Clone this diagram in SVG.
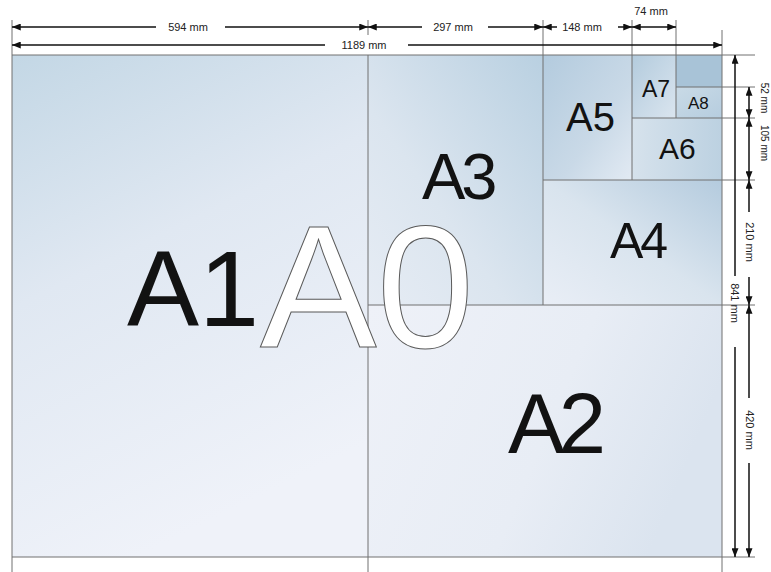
<svg xmlns="http://www.w3.org/2000/svg" width="771" height="572" viewBox="0 0 771 572">
<defs>
<linearGradient id="gA1" x1="0" y1="0" x2="0.35" y2="1"><stop offset="0" stop-color="#c3d7e5"/><stop offset="0.45" stop-color="#e0e8f2"/><stop offset="1" stop-color="#eff2f9"/></linearGradient>
<linearGradient id="gA2" x1="0" y1="0" x2="1" y2="0.3"><stop offset="0" stop-color="#eef1f8"/><stop offset="0.6" stop-color="#e8edf5"/><stop offset="1" stop-color="#dbe4ef"/></linearGradient>
<linearGradient id="gA3" x1="1" y1="0" x2="0" y2="1"><stop offset="0" stop-color="#b9d0e1"/><stop offset="0.6" stop-color="#dbe5ef"/><stop offset="1" stop-color="#e6ecf4"/></linearGradient>
<linearGradient id="gA4" x1="0" y1="1" x2="1" y2="0"><stop offset="0" stop-color="#e9eef6"/><stop offset="0.5" stop-color="#d9e4ee"/><stop offset="1" stop-color="#b4cbde"/></linearGradient>
<linearGradient id="gA5" x1="0" y1="0" x2="1" y2="1"><stop offset="0" stop-color="#b3cbde"/><stop offset="0.6" stop-color="#c9d9e7"/><stop offset="1" stop-color="#e2eaf3"/></linearGradient>
<linearGradient id="gA6" x1="0" y1="0" x2="1" y2="0"><stop offset="0" stop-color="#d6e2ec"/><stop offset="1" stop-color="#bcd1e1"/></linearGradient>
<linearGradient id="gA7" x1="0" y1="0" x2="1" y2="1"><stop offset="0" stop-color="#b3cbdd"/><stop offset="1" stop-color="#dae5ef"/></linearGradient>
<linearGradient id="gA8" x1="0" y1="0" x2="1" y2="1"><stop offset="0" stop-color="#c9dae6"/><stop offset="1" stop-color="#b6cddf"/></linearGradient>
<marker id="ar" viewBox="0 0 10 8" refX="10" refY="4" markerWidth="9" markerHeight="7" markerUnits="userSpaceOnUse" orient="auto-start-reverse"><path d="M0,0 L10,4 L0,8 Z" fill="#111"/></marker>
<style>
.frame{fill:none;stroke:#707070;stroke-width:1}
.lab{font-family:"Liberation Sans",Arial,sans-serif;fill:#121212}
.dim{fill:none;stroke:#111;stroke-width:1.5}
.dt{font-family:"Liberation Sans",Arial,sans-serif;font-size:11px;fill:#222;text-anchor:middle}
.rt{font-family:"Liberation Sans",Arial,sans-serif;font-size:10px;fill:#222;text-anchor:middle;dominant-baseline:central}
</style>
</defs>
<rect width="771" height="572" fill="#ffffff"/>
<g id="A1"><rect x="12" y="55" width="356" height="502" fill="url(#gA1)"/><text class="lab" x="127" y="326" font-size="108">A1</text></g>
<g id="A2"><rect x="368" y="305" width="354" height="252" fill="url(#gA2)"/><text class="lab" x="508" y="453" font-size="85" letter-spacing="-6">A2</text></g>
<g id="A3"><rect x="368" y="55" width="175" height="250" fill="url(#gA3)"/><text class="lab" x="422" y="199" font-size="65" letter-spacing="-4">A3</text></g>
<g id="A4"><rect x="543" y="180" width="179" height="125" fill="url(#gA4)"/><text class="lab" x="610" y="258" font-size="50" letter-spacing="-3">A4</text></g>
<g id="A5"><rect x="543" y="55" width="89" height="125" fill="url(#gA5)"/><text class="lab" x="566" y="131" font-size="40">A5</text></g>
<g id="A6"><rect x="632" y="118" width="90" height="62" fill="url(#gA6)"/><text class="lab" x="659" y="159" font-size="30">A6</text></g>
<g id="A7"><rect x="632" y="55" width="44" height="63" fill="url(#gA7)"/><text class="lab" x="642" y="97" font-size="23">A7</text></g>
<g id="A8top"><rect x="676" y="55" width="46" height="32" fill="#a8c3d7"/></g>
<g id="A8"><rect x="676" y="87" width="46" height="31" fill="url(#gA8)"/><text class="lab" x="688" y="109" font-size="17">A8</text></g>
<g id="grid" class="frame">
<path d="M12,20 V572 M368,20 V35 M368,55 V572 M543,20 V305 M632,20 V180 M676,20 V118 M722,30 V572"/>
<path d="M12,55 H755 M12,557 H755 M368,305 H755 M543,180 H755 M632,118 H755 M676,87 H755"/>
</g>
<g id="A0"><text x="260" y="347" font-family="Liberation Sans, Arial, sans-serif" font-size="175" fill="#ffffff" stroke="#5a5a5a" stroke-width="1">A0</text></g>
<g id="connectors" class="dim" marker-end="url(#ar)">
<path d="M156,27 H12"/><path d="M225,27 H368"/>
<path d="M422,27 H368"/><path d="M488,27 H543"/>
<path d="M557,27 H543"/><path d="M618,27 H632"/>
<path d="M632,27 H676" marker-start="url(#ar)"/>
<path d="M325,45 H12"/><path d="M408,45 H722"/>
<path d="M735,276 V55"/><path d="M735,347 V557"/>
<path d="M749,87 V118" marker-start="url(#ar)"/>
<path d="M749,118 V180" marker-start="url(#ar)"/>
<path d="M749,212 V180"/><path d="M749,277 V305"/>
<path d="M749,398 V305"/><path d="M749,463 V557"/>
</g>
<g id="dimlabels">
<text class="dt" x="188" y="31">594 mm</text>
<text class="dt" x="453" y="31">297 mm</text>
<text class="dt" x="582" y="31">148 mm</text>
<text class="dt" x="651" y="15">74 mm</text>
<text class="dt" x="364" y="49">1189 mm</text>
<text class="rt" transform="translate(735,303) rotate(90)" style="font-size:11px">841 mm</text>
<text class="rt" transform="translate(764,98) rotate(90)">52 mm</text>
<text class="rt" transform="translate(764,143) rotate(90)">105 mm</text>
<text class="rt" transform="translate(750,242) rotate(90)" style="font-size:11px">210 mm</text>
<text class="rt" transform="translate(750,430) rotate(90)" style="font-size:11px">420 mm</text>
</g>
</svg>
